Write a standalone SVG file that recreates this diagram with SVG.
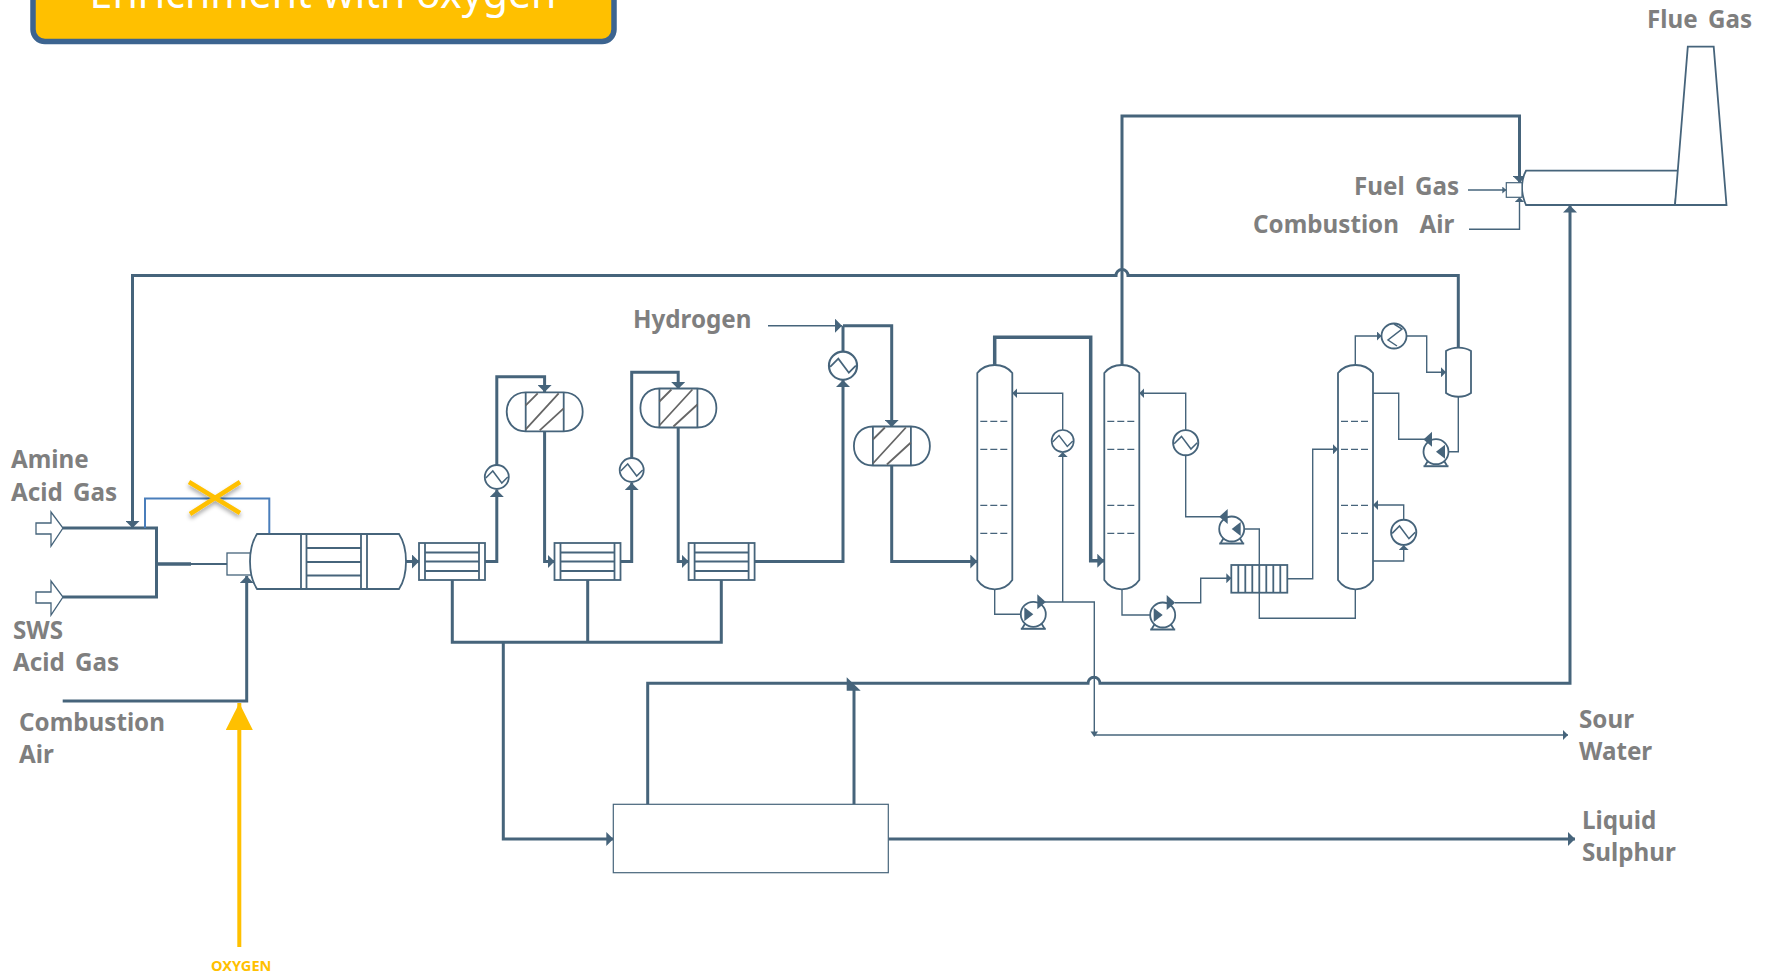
<svg xmlns="http://www.w3.org/2000/svg" width="1768" height="976" viewBox="0 0 1768 976">
<style>
.n{fill:#fff;stroke:#46647b;stroke-width:1.800}
.o{fill:none;stroke:#46647b;stroke-width:1.800}
.t{fill:none;stroke:#46647b;stroke-width:1.400}
.h{fill:none;stroke:#46647b;stroke-width:3}
.s{fill:none;stroke:#46647b;stroke-width:1.500}
.d{fill:none;stroke:#46647b;stroke-width:1.300;stroke-dasharray:7 3}
.f{fill:#46647b;stroke:none}
.l{font-family:"Noto Sans","Liberation Sans",sans-serif;font-weight:700;font-size:24.200px;word-spacing:4px;fill:#7f7f7f}
</style>
<defs>
<marker id="aL" markerUnits="userSpaceOnUse" markerWidth="8" markerHeight="14" refX="7" refY="7" orient="auto"><path d="M0 0L7 7L0 14Z" fill="#46647b"/></marker>
<marker id="aM" markerUnits="userSpaceOnUse" markerWidth="6" markerHeight="10" refX="5" refY="5" orient="auto"><path d="M0 0L5 5L0 10Z" fill="#46647b"/></marker>
<marker id="aS" markerUnits="userSpaceOnUse" markerWidth="4" markerHeight="7" refX="4" refY="3.500" orient="auto"><path d="M0 0L4 3.500L0 7Z" fill="#46647b"/></marker>
<marker id="aG" markerUnits="userSpaceOnUse" markerWidth="27" markerHeight="27" refX="27" refY="13.500" orient="auto"><path d="M0 0L27 13.500L0 27Z" fill="#ffc000"/></marker>
<filter id="sh" x="-30%" y="-30%" width="160%" height="160%"><feDropShadow dx="0" dy="3" stdDeviation="2" flood-color="#000" flood-opacity="0.35"/></filter>
<g id="exch"><rect class="n" width="66" height="37"/><path class="o" d="M6 0V37M60 0V37M6 9.500H60M6 18.500H60M6 28H60"/></g>
<g id="reactor"><path class="n" d="M19 0H57C70 0 76 10 76 19.500C76 29 70 39 57 39H19C6 39 0 29 0 19.500C0 10 6 0 19 0Z"/><path class="o" d="M19 0V39M57 0V39"/><path fill="none" stroke="#666" stroke-width="1.800" d="M19 13L31 1M19 37L52 1M33 38L57 16"/></g>
<g id="ht"><circle class="n" r="12"/><path class="s" d="M-11 1L-4 -6L5 6L11 0"/></g>
<g id="column"><path class="n" d="M0 8C4 3 11 0 17.500 0C24 0 31 3 35 8V215C31 221 24 224.300 17.500 224.300C11 224.300 4 221 0 215Z"/><path class="d" d="M3 56.300H33M3 84.300H33M3 140.300H33M3 168.300H33"/></g>
<g id="pump"><circle class="n" r="12.500"/><path class="o" d="M-8 9L-11 14M8 9L11 14"/><path d="M-12.500 14.500H12.500" fill="none" stroke="#46647b" stroke-width="2"/><path class="f" d="M-9 -7L0 0L-9 7Z"/><path class="f" d="M4 -20L12.500 -12.300L4 -5Z"/></g>
</defs>

<g id="title">
<rect x="33" y="-30" width="581" height="71.500" rx="12" fill="#ffc000" stroke="#3c6490" stroke-width="5.500"/>
<text x="323" y="8" text-anchor="middle" font-family="'Noto Sans','Liberation Sans',sans-serif" font-size="41" fill="#fff">Enrichment with oxygen</text>
</g>

<g id="connectors">
<path class="h" marker-end="url(#aL)" d="M1458.300 347V275.500H1128A6 6 0 0 0 1116 275.500H132.500V528"/>
<path class="h" d="M63 528H156.500V597H63"/>
<path class="h" style="stroke-width:3.500" d="M156.500 564H191"/>
<path class="h" style="stroke-width:2" d="M191 564H228"/>
<path fill="none" stroke="#4a7ebb" stroke-width="2" d="M145 528V498.500H269.300V535"/>
<path class="h" marker-end="url(#aL)" d="M62.700 701H246.700V576"/>
<path class="h" marker-end="url(#aL)" d="M406 561.500H419"/>
<path class="h" marker-end="url(#aL)" d="M485 561.500H496.800V490"/>
<path class="h" marker-end="url(#aL)" d="M496.800 465V376.700H544.600V392"/>
<path class="h" marker-end="url(#aL)" d="M544.600 431V561.500H554.500"/>
<path class="h" marker-end="url(#aL)" d="M620 561.500H631.700V483"/>
<path class="h" marker-end="url(#aL)" d="M631.700 458V372.300H678.200V389"/>
<path class="h" marker-end="url(#aL)" d="M678.200 427V561.500H688.600"/>
<path class="h" marker-end="url(#aL)" d="M754.700 561.500H843V380"/>
<path class="h" d="M843 352V325.700"/>
<path class="t" marker-end="url(#aL)" d="M768 325.700H842"/>
<path class="h" marker-end="url(#aL)" d="M843 325.700H891.700V427"/>
<path class="h" marker-end="url(#aL)" d="M891.700 465V561.500H977.300"/>
<path class="h" d="M452.300 580V642.300H721.300V580M587.700 580V642.300"/>
<path class="h" marker-end="url(#aL)" d="M503.300 642.300V839H613.300"/>
<path class="h" style="stroke-width:3.500" marker-end="url(#aL)" d="M994.700 365V337.300H1090.700V560.700H1104.300"/>
<path class="h" marker-end="url(#aL)" d="M1122 365V116H1519.500V182.700"/>
<path class="h" marker-end="url(#aL)" d="M647.700 804V683.300H1088A6 6 0 0 1 1100 683.300H1570V205.500"/>
<path class="h" d="M854 804V690"/>
<path class="f" d="M846.700 677.300L860.700 690.700H846.700Z"/>
<path class="h" marker-end="url(#aL)" d="M888.300 839H1575"/>
<path class="t" marker-end="url(#aM)" d="M1062.700 430V393.300H1012.300"/>
<path class="t" marker-end="url(#aM)" d="M1062.700 602V452"/>
<path class="t" d="M994.700 589V614.300H1025"/>
<path class="t" d="M1045 602H1094.300V735"/>
<path class="t" marker-end="url(#aM)" d="M1094.300 735H1568"/>
<path class="f" d="M1090.500 731.500H1098L1094.300 737Z"/>
<path class="t" marker-end="url(#aM)" d="M1185.700 430V393.300H1139.300"/>
<path class="t" d="M1185.700 455V516.700H1222"/>
<path class="t" d="M1122 589V615H1154"/>
<path class="t" marker-end="url(#aM)" d="M1175 602.700H1200.700V578.300H1231.300"/>
<path class="t" d="M1355.300 589V618.300H1259.300V529H1241"/>
<path class="t" marker-end="url(#aM)" d="M1287.300 578.700H1312.700V449.300H1338"/>
<path class="t" marker-end="url(#aM)" d="M1355.300 365V336H1381.500"/>
<path class="t" marker-end="url(#aM)" d="M1406.500 336H1426.700V372.300H1446"/>
<path class="t" d="M1458.300 396.700V451.700H1444"/>
<path class="t" d="M1373 393.300H1398.700V439.300H1425"/>
<path class="t" marker-end="url(#aM)" d="M1373 561H1403.700V545"/>
<path class="t" marker-end="url(#aM)" d="M1403.700 520V505H1373"/>
<path class="t" marker-end="url(#aS)" d="M1468 190H1506.300"/>
<path class="t" marker-end="url(#aM)" d="M1469 229.300H1519.500V197.300"/>
<path fill="none" stroke="#ffc000" stroke-width="4" marker-end="url(#aG)" d="M239.300 947V703"/>
</g>

<g id="amine-inlet"><path class="n" style="stroke-width:1.300" d="M36 523H51V512L63 528L51 546V534H36Z"/></g>
<g id="sws-inlet"><path class="n" style="stroke-width:1.300" d="M36 592H51V581L63 597L51 615V603H36Z"/></g>
<g id="cross" filter="url(#sh)"><path fill="none" stroke="#ffc000" stroke-width="4.500" d="M189 482L240 513M240 482L190 514"/></g>
<g id="burner"><rect x="227" y="553" width="26" height="22" fill="#fff" stroke="#46647b" stroke-width="1.300"/></g>
<g id="reaction-furnace">
<path class="n" d="M257 534H399C403 540 406 550 406 561.500C406 573 403 583 399 589H257C253 583 250 573 250 561.500C250 550 253 540 257 534Z"/>
<path class="o" d="M301 534V589M306.500 534V589M361 534V589M367 534V589M306.500 548H361M306.500 562H361M306.500 575.500H361"/>
</g>
<g id="ex1"><use href="#exch" x="419" y="543"/></g>
<g id="ex2"><use href="#exch" x="554.500" y="543"/></g>
<g id="ex3"><use href="#exch" x="688.600" y="543"/></g>
<g id="r1"><use href="#reactor" x="506.700" y="392.300"/></g>
<g id="r2"><use href="#reactor" x="640.400" y="388.500"/></g>
<g id="r3"><use href="#reactor" x="853.900" y="426.500"/></g>
<g id="h1"><use href="#ht" x="496.800" y="477"/></g>
<g id="h2"><use href="#ht" x="631.700" y="470"/></g>
<g id="h3"><use href="#ht" transform="translate(843 365.700) scale(1.170)"/></g>
<g id="h4"><use href="#ht" transform="translate(1062.700 441) scale(.92)"/></g>
<g id="h5"><use href="#ht" transform="translate(1185.700 442.700) scale(1.050)"/></g>
<g id="h6"><use href="#ht" transform="translate(1403.700 532.300) scale(1.050)"/></g>
<g id="h7"><circle class="n" cx="1394" cy="336" r="12.500"/><path class="s" d="M1394 324L1402 329L1388 340L1397 346"/></g>
<g id="col-a"><use href="#column" x="977.300" y="365"/></g>
<g id="col-b"><use href="#column" x="1104.300" y="365"/></g>
<g id="col-c"><use href="#column" x="1338" y="365"/></g>
<g id="pump-a"><use href="#pump" x="1033.300" y="614.300"/></g>
<g id="pump-b"><use href="#pump" x="1162.700" y="615"/></g>
<g id="pump-c"><use href="#pump" transform="translate(1231.700 529) scale(-1 1)"/></g>
<g id="pump-d"><use href="#pump" transform="translate(1436 451.700) scale(-1 1)"/></g>
<g id="condenser"><rect class="n" x="1231.300" y="565" width="56" height="27.700"/><path class="o" d="M1238.300 565V592.700M1245.300 565V592.700M1252.300 565V592.700M1259.300 565V592.700M1266.300 565V592.700M1273.300 565V592.700M1280.300 565V592.700"/></g>
<g id="drum"><path class="n" d="M1446 351C1453 346.500 1464 346.500 1471 351V393C1464 398 1453 398 1446 393Z"/></g>
<g id="incinerator">
<path class="n" d="M1526 170.700H1679L1675 205H1526C1523 198 1522 193 1522 188C1522 183 1523 176 1526 170.700Z"/>
<rect x="1506.300" y="182.700" width="15.700" height="14.600" fill="#fff" stroke="#46647b" stroke-width="1.200"/>
</g>
<g id="stack"><path class="n" d="M1687.800 46.700H1713.700L1726.500 205H1675Z"/></g>
<g id="sulphur-unit"><rect x="613.300" y="804.300" width="275" height="68.400" fill="#fff" stroke="#46647b" stroke-width="1.200"/></g>

<g id="labels">
<text class="l" x="11" y="468">Amine</text>
<text class="l" x="11" y="500.700">Acid Gas</text>
<text class="l" x="13" y="639">SWS</text>
<text class="l" x="13" y="671">Acid Gas</text>
<text class="l" x="19" y="731">Combustion</text>
<text class="l" x="19" y="763">Air</text>
<text class="l" x="633" y="328">Hydrogen</text>
<text class="l" x="1354" y="195">Fuel Gas</text>
<text class="l" x="1253" y="233" xml:space="preserve">Combustion  Air</text>
<text class="l" x="1647" y="28">Flue Gas</text>
<text class="l" x="1579" y="728">Sour</text>
<text class="l" x="1579" y="760">Water</text>
<text class="l" x="1582" y="829">Liquid</text>
<text class="l" x="1582" y="861">Sulphur</text>
<text x="211" y="971" font-family="'Noto Sans','Liberation Sans',sans-serif" font-weight="700" font-size="14.600" fill="#ffc000">OXYGEN</text>
</g>
</svg>
